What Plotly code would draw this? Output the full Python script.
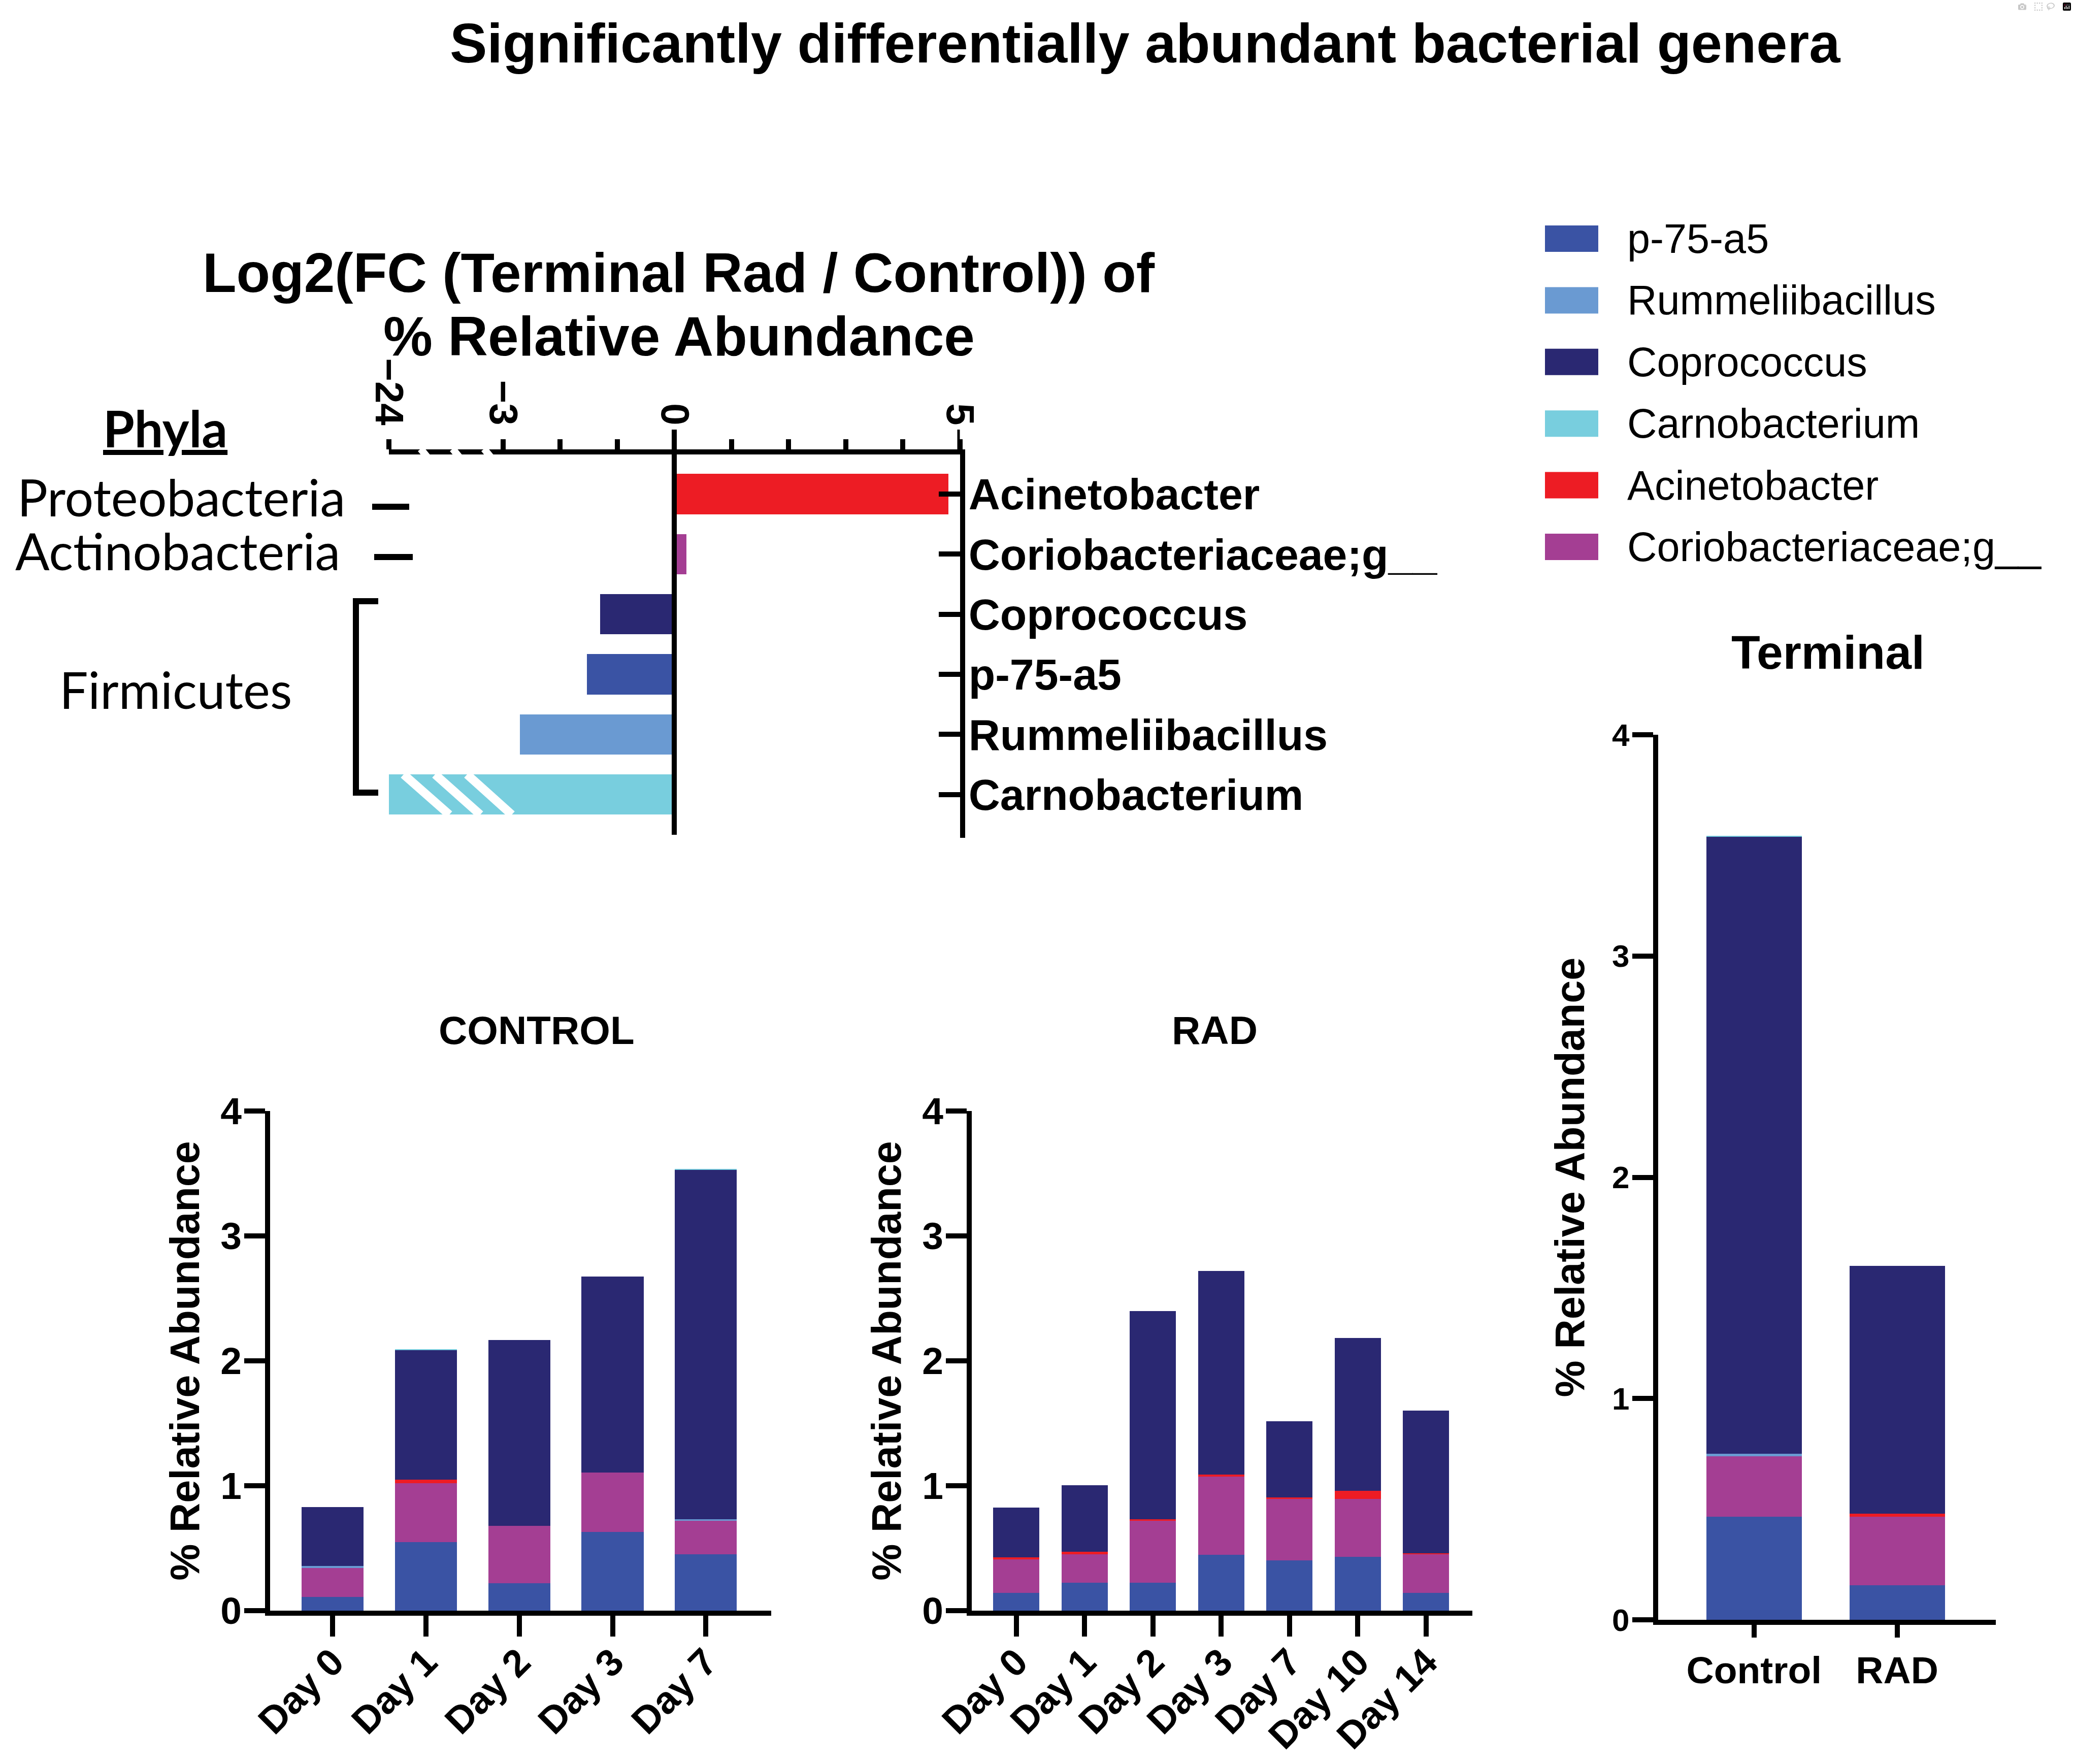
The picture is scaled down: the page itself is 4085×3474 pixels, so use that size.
import plotly.graph_objects as go

W, H = 4085, 3474

# ---------------- data ----------------
fc_genera = ["Acinetobacter", "Coriobacteriaceae;g__", "Coprococcus",
             "p-75-a5", "Rummeliibacillus", "Carnobacterium"]
fc_values = [4.80, 0.21, -1.30, -1.53, -2.70, -24.0]
fc_tick_values = [-24, -3, -2, -1, 0, 1, 2, 3, 4, 5]
fc_tick_labels = ["\u221224", "\u22123", "", "", "0", "", "", "", "", "5"]

phyla_labels = ["Proteobacteria", "Actinobacteria", "Firmicutes"]

legend_genera = ["p-75-a5", "Rummeliibacillus", "Coprococcus",
                 "Carnobacterium", "Acinetobacter", "Coriobacteriaceae;g__"]
stack_order = ["p-75-a5", "Coriobacteriaceae;g__", "Acinetobacter",
               "Rummeliibacillus", "Coprococcus", "Carnobacterium"]

control_days = ["Day 0", "Day 1", "Day 2", "Day 3", "Day 7"]
control_p75 = [0.11, 0.55, 0.22, 0.63, 0.45]
control_corio = [0.233, 0.47, 0.458, 0.474, 0.268]
control_acin = [0.0, 0.027, 0.0, 0.0, 0.0]
control_rumm = [0.015, 0.0, 0.0, 0.0, 0.012]
control_copro = [0.473, 1.041, 1.49, 1.569, 2.80]
control_carno = [0.0, 0.004, 0.0, 0.0, 0.006]

rad_days = ["Day 0", "Day 1", "Day 2", "Day 3", "Day 7", "Day 10", "Day 14"]
rad_p75 = [0.144, 0.223, 0.223, 0.446, 0.402, 0.429, 0.144]
rad_corio = [0.268, 0.23, 0.498, 0.629, 0.491, 0.464, 0.309]
rad_acin = [0.014, 0.02, 0.01, 0.013, 0.013, 0.068, 0.007]
rad_rumm = [0.0, 0.0, 0.0, 0.0, 0.0, 0.0, 0.0]
rad_copro = [0.398, 0.53, 1.666, 1.631, 0.612, 1.223, 1.14]
rad_carno = [0.0, 0.0, 0.0, 0.0, 0.0, 0.0, 0.0]

terminal_groups = ["Control", "RAD"]
term_p75 = [0.466, 0.156]
term_corio = [0.273, 0.31]
term_acin = [0.0, 0.013]
term_rumm = [0.012, 0.0]
term_copro = [2.787, 1.121]
term_carno = [0.006, 0.0]

colors = {
    "p-75-a5": "#3A53A4",
    "Rummeliibacillus": "#6A9AD2",
    "Coprococcus": "#2A2872",
    "Carnobacterium": "#78CEDE",
    "Acinetobacter": "#ED1C24",
    "Coriobacteriaceae;g__": "#A43E93",
}

control_data = {"p-75-a5": control_p75, "Coriobacteriaceae;g__": control_corio,
                "Acinetobacter": control_acin, "Rummeliibacillus": control_rumm,
                "Coprococcus": control_copro, "Carnobacterium": control_carno}
rad_data = {"p-75-a5": rad_p75, "Coriobacteriaceae;g__": rad_corio,
            "Acinetobacter": rad_acin, "Rummeliibacillus": rad_rumm,
            "Coprococcus": rad_copro, "Carnobacterium": rad_carno}
term_data = {"p-75-a5": term_p75, "Coriobacteriaceae;g__": term_corio,
             "Acinetobacter": term_acin, "Rummeliibacillus": term_rumm,
             "Coprococcus": term_copro, "Carnobacterium": term_carno}

# ---------------- helpers ----------------
ARIAL = "Liberation Sans, Arial, sans-serif"
LATO = "Lato, Calibri, sans-serif"


def px(p):
    return p / W


def py(p):
    return 1 - p / H


def brk(v):
    """broken axis: values below -3 are compressed (-24 -> -5)"""
    return v if v >= -3 else -3 + (v + 3) * (2.0 / 21.0)


def bold(size, family=ARIAL):
    return dict(family=family, size=size, color="black", weight="bold")


fig = go.Figure()

# ---- log2 FC horizontal bars ----
fig.add_trace(go.Bar(
    x=[brk(v) for v in fc_values], y=fc_genera, orientation="h",
    marker=dict(color=[colors[g] for g in fc_genera], line=dict(width=0)),
    width=0.67, xaxis="x", yaxis="y", showlegend=False, name="log2FC"))

# ---- stacked bars ----
for g in stack_order:
    fig.add_trace(go.Bar(x=control_days, y=control_data[g], name=g,
                         marker=dict(color=colors[g], line=dict(width=0)),
                         width=0.665, xaxis="x2", yaxis="y2", showlegend=False))
    fig.add_trace(go.Bar(x=rad_days, y=rad_data[g], name=g,
                         marker=dict(color=colors[g], line=dict(width=0)),
                         width=0.677, xaxis="x3", yaxis="y3", showlegend=False))
    fig.add_trace(go.Bar(x=terminal_groups, y=term_data[g], name=g,
                         marker=dict(color=colors[g], line=dict(width=0)),
                         width=0.667, xaxis="x4", yaxis="y4", showlegend=False))

LW = 10
common_ax = dict(showline=True, linewidth=LW, linecolor="black", showgrid=False,
                 zeroline=False, tickcolor="black", tickwidth=LW, fixedrange=True,
                 automargin=False)

fc_top, fc_bot = 895, 1650
bar_top, bar_bot = 2188, 3172
fig.update_layout(
    template="none",
    font=dict(family=ARIAL, color="black"),
    width=W, height=H, margin=dict(l=0, r=0, t=0, b=0, autoexpand=False),
    paper_bgcolor="white", plot_bgcolor="white", barmode="stack",
    showlegend=False,
    xaxis=dict(domain=[px(765.5), px(1890.5)], range=[-5, 5], side="top",
               anchor="y", ticks="outside", ticklen=20,
               tickvals=[brk(v) for v in fc_tick_values], ticktext=fc_tick_labels,
               tickangle=90, tickfont=bold(78), **common_ax),
    yaxis=dict(domain=[py(fc_bot), py(fc_top)], type="category",
               categoryarray=fc_genera, categoryorder="array",
               range=[5.72, -0.66], side="right", anchor="x",
               ticks="inside", ticklen=42, tickfont=bold(86),
               ticklabelstandoff=-10, **common_ax),
    xaxis2=dict(domain=[px(532), px(1519)], anchor="y2", type="category",
                range=[-0.67, 4.7], ticks="outside", ticklen=41, tickangle=-45,
                tickfont=bold(75), ticklabelstandoff=-24, **common_ax),
    yaxis2=dict(domain=[py(bar_bot), py(bar_top)], anchor="x2", range=[0, 4],
                tickvals=[0, 1, 2, 3, 4], ticks="outside", ticklen=41,
                tickfont=bold(75), ticklabelstandoff=-10,
                title=dict(text="% Relative Abundance", font=bold(81), standoff=19),
                **common_ax),
    xaxis3=dict(domain=[px(1914), px(2900)], anchor="y3", type="category",
                range=[-0.654, 6.677], ticks="outside", ticklen=41, tickangle=-45,
                tickfont=bold(75), ticklabelstandoff=-24, **common_ax),
    yaxis3=dict(domain=[py(bar_bot), py(bar_top)], anchor="x3", range=[0, 4],
                tickvals=[0, 1, 2, 3, 4], ticks="outside", ticklen=41,
                tickfont=bold(75), ticklabelstandoff=-10,
                title=dict(text="% Relative Abundance", font=bold(81), standoff=19),
                **common_ax),
    xaxis4=dict(domain=[px(3266), px(3931)], anchor="y4", type="category",
                range=[-0.67, 1.69], ticks="outside", ticklen=25, tickangle=0,
                tickfont=bold(75), **common_ax),
    yaxis4=dict(domain=[py(3190), py(1447)], anchor="x4", range=[0, 4],
                tickvals=[0, 1, 2, 3, 4], ticks="outside", ticklen=41,
                tickfont=bold(62), ticklabelstandoff=-7,
                title=dict(text="% Relative Abundance", font=bold(81), standoff=32),
                **common_ax),
)

shapes = []
# zero line and right-axis extension of the FC chart
shapes.append(dict(type="line", xref="x", yref="paper", x0=0, x1=0,
                   y0=py(1644), y1=py(846), line=dict(color="black", width=LW),
                   layer="above"))
shapes.append(dict(type="line", xref="x", yref="paper", x0=5, x1=5,
                   y0=py(fc_top), y1=py(846), line=dict(color="black", width=LW),
                   layer="above"))
# axis break gaps (slanted white cuts) between -24 and -3
for gx in [-4.36, -3.80, -3.25]:
    shapes.append(dict(type="line", xref="x", yref="paper",
                       x0=gx - 0.08, x1=gx + 0.08, y0=py(884), y1=py(906),
                       line=dict(color="white", width=14), layer="above"))
# hatch stripes on the broken Carnobacterium bar
cb = fc_genera.index("Carnobacterium")
for xt, xb in [(-4.738, -3.938), (-4.187, -3.396), (-3.627, -2.844)]:
    shapes.append(dict(type="line", xref="x", yref="y",
                       x0=xt, x1=xb, y0=cb - 0.335, y1=cb + 0.335,
                       line=dict(color="white", width=17), layer="above"))
# Firmicutes bracket
shapes.append(dict(type="path", xref="paper", yref="paper",
                   path=f"M {px(745)},{py(1184)} L {px(701)},{py(1184)} "
                        f"L {px(701)},{py(1561)} L {px(745)},{py(1561)}",
                   line=dict(color="black", width=12)))
# phyla dashes
for x0, x1, yy in [(733, 806, 998), (737, 813, 1097)]:
    shapes.append(dict(type="line", xref="paper", yref="paper",
                       x0=px(x0), x1=px(x1), y0=py(yy), y1=py(yy),
                       line=dict(color="black", width=12)))
# legend swatches
for i, g in enumerate(legend_genera):
    cy = 470 + i * 121.4
    shapes.append(dict(type="rect", xref="paper", yref="paper",
                       x0=px(3043), x1=px(3148), y0=py(cy + 26), y1=py(cy - 26),
                       fillcolor=colors[g], line=dict(width=0)))

annotations = []
for i, g in enumerate(legend_genera):
    cy = 470 + i * 121.4
    annotations.append(dict(text=g, x=px(3203), y=py(cy), xref="paper", yref="paper",
                            xanchor="left", yanchor="middle", showarrow=False,
                            font=dict(family=ARIAL, size=81, color="black")))

annotations += [
    dict(text="Significantly differentially abundant bacterial genera",
         x=px(2255), y=py(84), font=bold(110)),
    dict(text="Log2(FC (Terminal Rad / Control)) of", x=px(1337), y=py(537),
         font=bold(109)),
    dict(text="% Relative Abundance", x=px(1337), y=py(662), font=bold(109)),
    dict(text="<u>Phyla</u>", x=px(325), y=py(842), font=bold(100, LATO)),
    dict(text=phyla_labels[0], x=px(32), y=py(978), xanchor="left",
         font=dict(family=LATO, size=100, color="black")),
    dict(text=phyla_labels[1], x=px(28), y=py(1084), xanchor="left",
         font=dict(family=LATO, size=100, color="black")),
    dict(text=phyla_labels[2], x=px(115), y=py(1357), xanchor="left",
         font=dict(family=LATO, size=100, color="black")),
    dict(text="CONTROL", x=px(1057), y=py(2029), font=bold(78)),
    dict(text="RAD", x=px(2392), y=py(2029), font=bold(78)),
    dict(text="Terminal", x=px(3600), y=py(1285), font=bold(93)),
]
for a in annotations:
    a.setdefault("xref", "paper")
    a.setdefault("yref", "paper")
    a.setdefault("showarrow", False)
    a.setdefault("xanchor", "center")
    a.setdefault("yanchor", "middle")

fig.update_layout(shapes=shapes, annotations=annotations)

fig.write_html("out.html",
               post_script="document.body.style.margin='0';document.body.style.overflow='hidden';")
